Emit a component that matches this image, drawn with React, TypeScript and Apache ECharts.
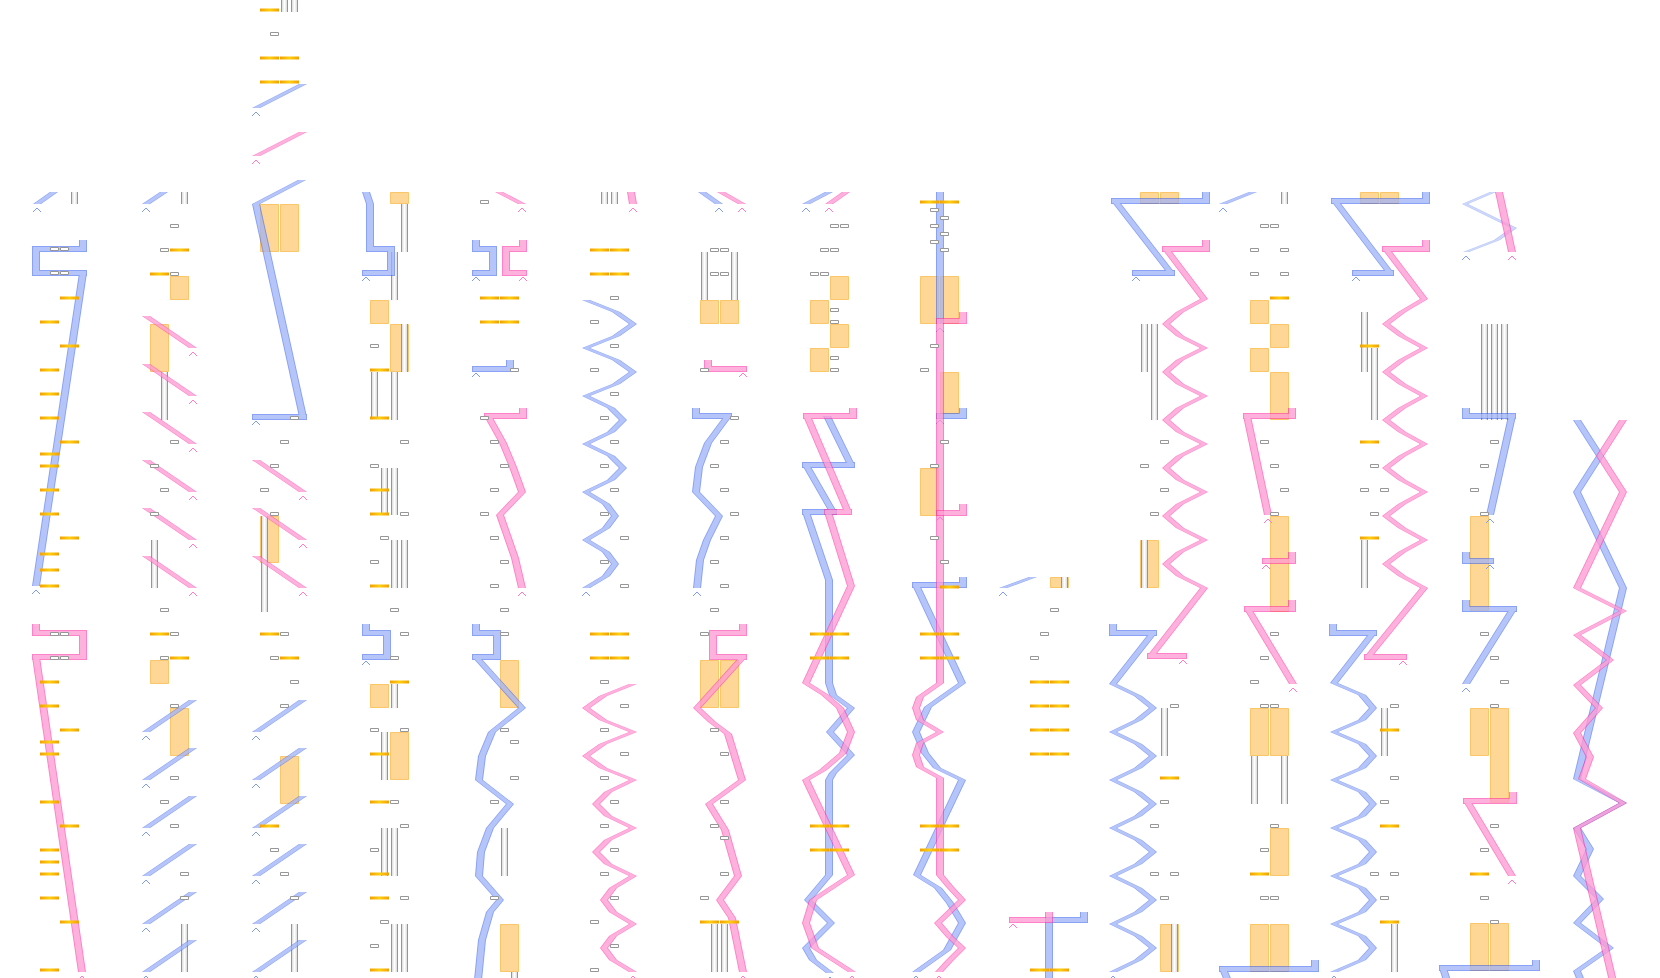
import React, { useEffect, useRef } from "react";
import * as echarts from "echarts";

// Page-sized canvas: x = horizontal position, y = vertical position (downwards).
const X_MAX = 1660;
const Y_MAX = 978;

// Ribbon strands, listed top to bottom; the last vertex gets an end marker.
const bluePaths: number[][][] = [
  // column 0
  [[54, 192], [37, 204]],
  [[83, 240], [83, 249], [36, 249], [36, 273], [83, 273], [36, 586]],
  // column 1
  [[164, 192], [146, 204]],
  [[193, 700], [146, 732]], [[193, 748], [146, 780]], [[193, 796], [146, 828]],
  [[193, 844], [146, 876]], [[193, 892], [146, 924]], [[193, 940], [146, 972]],
  // column 2
  [[303, 84], [256, 108]],
  [[302, 180], [256, 204], [303, 417], [256, 417]],
  [[303, 700], [256, 732]], [[303, 748], [256, 780]], [[303, 796], [256, 828]],
  [[303, 844], [256, 876]], [[303, 892], [256, 924]], [[303, 940], [256, 972]],
  // column 3
  [[366, 192], [370, 204], [370, 249], [391, 249], [391, 273], [366, 273]],
  [[366, 624], [366, 633], [387, 633], [387, 657], [366, 657]],
  // column 4
  [[476, 240], [476, 249], [493, 249], [493, 273], [476, 273]],
  [[510, 360], [510, 369], [476, 369]],
  [[476, 624], [476, 633], [497, 633], [497, 657], [476, 657], [522, 708], [492, 732], [482, 756], [479, 780], [510, 804], [490, 828], [481, 852], [479, 876], [500, 900], [490, 912], [482, 940], [477, 990]],
  // column 5
  [[586, 300], [616, 312], [633, 324], [616, 336], [586, 348], [616, 360], [633, 372], [616, 384], [586, 396], [611, 408], [623, 420], [611, 432], [586, 444], [611, 456], [623, 468], [611, 480], [586, 492], [606, 504], [615, 516], [606, 528], [586, 540], [606, 552], [615, 564], [606, 576], [586, 588]],
  // column 6
  [[702, 192], [719, 204]],
  [[696, 408], [696, 416], [728, 416], [708, 443], [699, 467], [696, 492], [719, 516], [707, 540], [700, 560], [697, 588]],
  // column 7
  [[829, 192], [806, 204]],
  [[827, 416], [851, 465], [806, 465], [833, 512], [806, 512], [829, 580], [829, 683], [833, 695], [851, 708], [830, 732], [851, 755], [833, 773], [829, 780], [829, 875], [808, 900], [831, 923], [806, 948], [813, 960], [830, 973]],
  // column 8
  [[940, 192], [940, 324]],
  [[963, 408], [963, 416], [940, 416]],
  [[963, 577], [963, 585], [916, 585], [962, 683], [928, 707], [916, 732], [925, 753], [937, 768], [962, 780], [917, 875], [938, 888], [950, 903], [962, 923], [947, 950], [916, 972]],
  // column 9
  [[1033, 577], [1003, 588]],
  [[1084, 912], [1084, 920], [1049, 920], [1049, 990]],
  // column 10
  [[1206, 192], [1206, 201], [1115, 201], [1171, 273], [1136, 273]],
  [[1113, 624], [1113, 633], [1153, 633], [1113, 684], [1138, 696], [1153, 708], [1138, 720], [1113, 732], [1138, 744], [1153, 756], [1138, 768], [1113, 780], [1138, 792], [1153, 804], [1138, 816], [1113, 828], [1138, 840], [1153, 852], [1138, 864], [1113, 876], [1138, 888], [1153, 900], [1138, 912], [1113, 924], [1138, 936], [1153, 948], [1138, 960], [1113, 972]],
  // column 11
  [[1253, 192], [1223, 204]],
  [[1315, 960], [1315, 969], [1223, 969], [1232, 990]],
  // column 12
  [[1426, 192], [1426, 201], [1335, 201], [1390, 273], [1356, 273]],
  [[1333, 624], [1333, 633], [1373, 633], [1334, 683], [1362, 695], [1373, 708], [1362, 720], [1334, 732], [1362, 744], [1373, 756], [1362, 768], [1334, 780], [1362, 792], [1373, 804], [1362, 816], [1334, 828], [1362, 840], [1373, 852], [1362, 864], [1334, 876], [1362, 888], [1373, 900], [1362, 912], [1334, 924], [1362, 936], [1373, 948], [1362, 960], [1334, 972]],
  // column 13
  [[1466, 408], [1466, 416], [1512, 416], [1490, 515]],
  [[1466, 552], [1466, 561], [1490, 561]],
  [[1466, 600], [1466, 609], [1513, 609], [1466, 684]],
  [[1536, 960], [1536, 968], [1443, 968], [1450, 990]],
  // column 14
  [[1577, 420], [1600, 456], [1577, 492], [1623, 588], [1577, 779], [1623, 803], [1577, 828], [1590, 849], [1577, 876], [1600, 899], [1577, 923], [1610, 948], [1577, 971], [1585, 990]],
];

// Fine blue strand at the head of column 13
const fineBluePaths: number[][][] = [
  [[1493, 192], [1465, 204], [1514, 228], [1497, 240], [1466, 252]],
];

const pinkPaths: number[][][] = [
  // column 0
  [[36, 624], [36, 633], [83, 633], [83, 657], [36, 657], [82, 972]],
  // column 1
  [[146, 316], [193, 348]], [[146, 364], [193, 396]], [[146, 412], [193, 444]],
  [[146, 460], [193, 492]], [[146, 508], [193, 540]], [[146, 556], [193, 588]],
  // column 2
  [[303, 132], [256, 156]],
  [[256, 460], [303, 492]], [[256, 508], [303, 540]], [[256, 556], [303, 588]],
  // column 4
  [[499, 192], [522, 204]],
  [[523, 240], [523, 249], [506, 249], [506, 273], [523, 273]],
  [[523, 408], [523, 416], [488, 416], [503, 443], [513, 467], [522, 492], [500, 515], [507, 535], [515, 558], [522, 588]],
  // column 5
  [[631, 192], [633, 204]],
  [[633, 684], [603, 696], [586, 708], [603, 720], [633, 732], [603, 744], [586, 756], [603, 768], [633, 780], [608, 792], [596, 804], [608, 816], [633, 828], [608, 840], [596, 852], [608, 864], [633, 876], [613, 888], [604, 900], [613, 912], [633, 924], [613, 936], [604, 948], [613, 960], [633, 972]],
  // column 6
  [[721, 192], [742, 204]],
  [[708, 360], [708, 369], [743, 369]],
  [[743, 624], [743, 633], [713, 633], [713, 657], [743, 657], [697, 708], [712, 722], [728, 734], [742, 780], [709, 804], [725, 830], [738, 876], [720, 900], [732, 918], [743, 972]],
  // column 7
  [[846, 192], [829, 204]],
  [[853, 408], [853, 416], [807, 416], [848, 512], [828, 512], [851, 586], [806, 683], [825, 695], [840, 708], [851, 732], [843, 753], [823, 770], [806, 780], [851, 875], [813, 900], [806, 923], [815, 948], [852, 972]],
  // column 8
  [[963, 312], [963, 321], [940, 321], [940, 683], [920, 697], [916, 708], [920, 720], [940, 732], [920, 743], [916, 755], [920, 767], [940, 778], [940, 875], [950, 887], [962, 900], [938, 923], [950, 937], [962, 948], [950, 960], [939, 972]],
  [[963, 504], [963, 513], [940, 513]],
  // column 9
  [[1049, 912], [1049, 920], [1013, 920]],
  // column 10
  [[1206, 240], [1206, 249], [1166, 249], [1204, 299], [1180, 312], [1166, 324], [1180, 336], [1204, 348], [1180, 360], [1166, 372], [1180, 384], [1204, 396], [1180, 408], [1166, 420], [1180, 432], [1204, 444], [1180, 456], [1166, 468], [1180, 480], [1204, 492], [1180, 504], [1166, 516], [1180, 528], [1204, 540], [1180, 552], [1166, 564], [1180, 576], [1204, 588], [1151, 656], [1183, 656]],
  // column 11
  [[1292, 408], [1292, 416], [1247, 416], [1268, 515]],
  [[1292, 552], [1292, 561], [1266, 561]],
  [[1292, 600], [1292, 609], [1248, 609], [1293, 684]],
  // column 12
  [[1426, 240], [1426, 249], [1386, 249], [1424, 299], [1402, 312], [1386, 324], [1402, 336], [1424, 348], [1402, 360], [1386, 372], [1402, 384], [1424, 396], [1402, 408], [1386, 420], [1402, 432], [1424, 444], [1402, 456], [1386, 468], [1402, 480], [1424, 492], [1402, 504], [1386, 516], [1402, 528], [1424, 540], [1402, 552], [1386, 564], [1402, 576], [1424, 588], [1368, 657], [1403, 657]],
  // column 13
  [[1499, 192], [1512, 252]],
  [[1513, 792], [1513, 801], [1467, 801], [1512, 876]],
  // column 14
  [[1623, 420], [1600, 456], [1623, 492], [1577, 588], [1623, 611], [1577, 635], [1610, 660], [1577, 685], [1599, 708], [1577, 733], [1590, 757], [1582, 779], [1623, 803], [1577, 828], [1615, 990]],
];

// Short amber ticks: [left, y]
const ticks: number[][] = [
  [40, 322], [40, 370], [40, 394], [40, 418], [40, 454], [40, 466], [40, 490], [40, 514], [40, 554], [40, 570], [40, 586],
  [60, 298], [60, 346], [60, 442], [60, 538],
  [40, 682], [40, 706], [40, 742], [40, 754], [40, 802], [40, 850], [40, 862], [40, 874], [40, 898], [40, 970],
  [60, 730], [60, 826], [60, 922],
  [170, 250], [150, 274], [150, 634], [170, 658],
  [260, 10], [260, 58], [280, 58], [260, 82], [280, 82], [260, 634], [280, 658], [260, 826],
  [370, 370], [370, 418], [370, 490], [370, 514], [370, 586], [390, 682], [370, 754], [370, 802], [370, 874], [370, 898], [370, 970],
  [480, 298], [500, 298], [480, 322], [500, 322],
  [590, 250], [610, 250], [590, 274], [610, 274], [590, 634], [610, 634], [590, 658], [610, 658],
  [700, 922], [720, 922],
  [810, 634], [830, 634], [810, 658], [830, 658], [810, 826], [830, 826], [810, 850], [830, 850],
  [920, 202], [940, 202], [940, 587], [920, 634], [940, 634], [920, 658], [940, 658], [920, 826], [940, 826], [920, 850], [940, 850],
  [1030, 682], [1050, 682], [1030, 706], [1050, 706], [1030, 730], [1050, 730], [1030, 754], [1050, 754], [1030, 970], [1050, 970],
  [1160, 778],
  [1270, 298], [1250, 874],
  [1360, 346], [1360, 442], [1360, 538], [1380, 730], [1380, 826], [1380, 922],
  [1470, 874],
];

// Small hollow boxes: [left, y]
const boxes: number[][] = [
  [50, 249], [60, 249], [50, 273], [60, 273], [50, 634], [60, 634], [50, 658], [60, 658],
  [170, 226], [160, 250], [170, 274], [170, 442], [150, 466], [160, 490], [150, 514], [160, 610], [170, 634], [160, 658], [170, 706], [170, 778], [160, 802], [170, 826], [180, 874], [180, 898],
  [270, 34], [290, 418], [280, 442], [270, 466], [260, 490], [270, 514], [280, 634], [270, 658], [290, 682], [280, 706], [270, 850], [280, 874], [290, 898],
  [370, 346], [400, 442], [370, 466], [400, 514], [380, 538], [370, 562], [390, 610], [400, 634], [390, 658], [370, 730], [400, 730], [390, 802], [400, 826], [370, 850], [400, 898], [380, 922], [370, 946],
  [480, 202], [510, 370], [480, 418], [490, 442], [500, 466], [490, 490], [480, 514], [490, 538], [500, 562], [490, 586], [500, 610], [500, 634], [500, 730], [510, 742], [510, 778], [490, 802], [490, 898],
  [610, 298], [590, 322], [610, 346], [590, 370], [610, 394], [600, 418], [610, 442], [600, 466], [610, 490], [600, 514], [620, 538], [600, 562], [620, 586],
  [600, 682], [620, 706], [600, 730], [620, 754], [600, 778], [610, 802], [600, 826], [610, 850], [600, 874], [610, 898], [590, 922], [610, 946], [590, 970],
  [710, 250], [720, 250], [710, 274], [720, 274], [700, 370], [730, 418], [720, 442], [710, 466], [720, 490], [730, 514], [720, 538], [710, 562], [720, 586], [710, 610], [700, 634], [710, 730], [720, 754], [720, 802], [710, 826], [720, 838], [720, 874], [700, 898],
  [830, 226], [840, 226], [820, 250], [830, 250], [810, 274], [820, 274], [830, 310], [830, 322], [830, 358], [830, 370],
  [930, 210], [940, 218], [930, 226], [940, 234], [930, 242], [940, 250], [930, 346], [920, 370], [940, 442], [930, 466], [930, 538], [940, 562],
  [1050, 610], [1040, 634], [1030, 658],
  [1160, 442], [1140, 466], [1160, 490], [1150, 514], [1170, 706], [1160, 802], [1150, 826], [1150, 874], [1170, 874], [1160, 898],
  [1260, 226], [1270, 226], [1250, 250], [1280, 250], [1250, 274], [1280, 274], [1260, 442], [1270, 466], [1280, 490], [1270, 514], [1270, 634], [1260, 658], [1250, 682], [1260, 706], [1270, 706], [1270, 826], [1260, 850], [1260, 898], [1270, 898],
  [1370, 466], [1360, 490], [1380, 490], [1370, 514], [1390, 706], [1390, 778], [1380, 802], [1370, 874], [1390, 874], [1380, 898],
  [1490, 442], [1480, 466], [1470, 490], [1480, 514], [1480, 634], [1490, 658], [1500, 682], [1490, 706], [1490, 826], [1480, 850], [1480, 898], [1490, 922],
];

// Striped rods: [left, top, bottom]
const rods: number[][] = [
  [71, 192, 204],
  [181, 192, 204], [161, 372, 420], [151, 540, 588], [181, 924, 972],
  [281, 0, 12], [291, 0, 12], [261, 516, 612], [291, 924, 972],
  [401, 204, 252], [391, 252, 300], [401, 324, 372], [391, 372, 420], [371, 372, 418], [381, 468, 515], [391, 468, 515], [391, 540, 588], [401, 540, 588],
  [391, 684, 708], [381, 732, 780], [381, 828, 876], [391, 828, 876], [391, 924, 972], [401, 924, 972],
  [501, 828, 876], [511, 972, 985],
  [601, 192, 204], [611, 192, 204],
  [701, 252, 300], [731, 252, 300], [711, 924, 972], [721, 924, 972],
  [1061, 577, 588],
  [1141, 324, 372], [1151, 324, 420], [1141, 540, 588], [1161, 708, 756], [1171, 924, 972],
  [1281, 192, 204], [1251, 756, 804], [1281, 756, 804],
  [1361, 312, 372], [1371, 348, 420], [1361, 540, 588], [1381, 708, 756], [1391, 924, 972],
  [1481, 324, 420], [1491, 324, 420], [1501, 324, 420],
];

// Shaded blocks: [left, top, bottom]
const blocks: number[][] = [
  [170, 276, 300], [150, 324, 372], [150, 660, 684], [170, 708, 756],
  [260, 204, 252], [280, 204, 252], [260, 516, 563], [280, 756, 804],
  [390, 192, 204], [370, 300, 324], [390, 324, 372], [370, 684, 708], [390, 732, 780],
  [500, 660, 708], [500, 924, 972],
  [700, 300, 324], [720, 300, 324], [700, 660, 708], [720, 660, 708],
  [830, 276, 300], [810, 300, 324], [830, 324, 348], [810, 348, 372],
  [920, 276, 324], [940, 276, 324], [940, 372, 414], [920, 468, 516],
  [1050, 577, 588],
  [1140, 192, 204], [1160, 192, 204], [1140, 540, 588], [1160, 924, 972],
  [1250, 300, 324], [1270, 324, 348], [1250, 348, 372], [1270, 372, 420], [1270, 516, 612], [1250, 708, 756], [1270, 708, 756], [1270, 828, 876], [1250, 924, 972], [1270, 924, 972],
  [1360, 192, 204], [1380, 192, 204],
  [1470, 516, 611], [1470, 708, 756], [1490, 708, 803], [1470, 923, 971], [1490, 923, 971],
];

const BLUE = { fill: "rgba(60,100,238,0.6)", mark: "#7d9af4", half: 4, flat: 3 };
const FINE_BLUE = { fill: "rgba(60,100,238,0.4)", mark: "#7d9af4", half: 3, flat: 2 };
const PINK = { fill: "rgba(255,47,163,0.6)", mark: "#ff78cc", half: 4, flat: 3 };
const SHEEN = "rgba(255,255,255,0.38)";
const LANE_W = 19;
const BOX_W = 9;
const ROD_W = 7;

// Ribbon outline: sloped runs keep a constant horizontal width, level runs a constant height.
// Every piece is wound the same way so overlaps fill only once.
function ribbon(pts: number[][], half: number, flat: number): string {
  let d = "";
  for (let i = 0; i < pts.length - 1; i++) {
    let p = pts[i];
    let q = pts[i + 1];
    if (Math.abs(p[1] - q[1]) < 0.5) {
      const x0 = Math.min(p[0], q[0]) - half;
      const x1 = Math.max(p[0], q[0]) + half;
      const y = p[1];
      d += `M${x0},${y - flat}L${x1},${y - flat}L${x1},${y + flat}L${x0},${y + flat}Z`;
    } else {
      if (p[1] > q[1]) [p, q] = [q, p];
      d += `M${p[0] - half},${p[1]}L${p[0] + half},${p[1]}L${q[0] + half},${q[1]}L${q[0] - half},${q[1]}Z`;
    }
  }
  return d;
}

function strandSeries(name: string, paths: number[][][], tone: any) {
  return {
    type: "custom",
    name,
    silent: true,
    data: paths.map((p) => [p[0][0], p[0][1]]),
    encode: { x: 0, y: 1 },
    renderItem: (params: any, api: any) => {
      const path = paths[params.dataIndex];
      const pts = path.map((p) => api.coord(p));
      const n = pts.length;
      const children: any[] = [
        { type: "path", shape: { pathData: ribbon(pts, tone.half, tone.flat) }, style: { fill: tone.fill } },
        { type: "path", shape: { pathData: ribbon(pts, tone.half - 1, tone.flat - 1) }, style: { fill: SHEEN } },
      ];
      if (path[n - 1][1] < Y_MAX - 4) {
        const e = pts[n - 1];
        children.push({
          type: "polyline",
          shape: { points: [[e[0] - 4, e[1] + 8], [e[0], e[1] + 4], [e[0] + 4, e[1] + 8]] },
          style: { fill: null, stroke: tone.mark, lineWidth: 1 },
        });
      }
      return { type: "group", children };
    },
  };
}

export default function App() {
  const ref = useRef<HTMLDivElement>(null);

  useEffect(() => {
    if (!ref.current) return;
    const chart = echarts.init(ref.current, null, { renderer: "svg" });

    const option: any = {
      animation: false,
      backgroundColor: "#ffffff",
      grid: { left: 0, right: 0, top: 0, bottom: 0 },
      xAxis: { type: "value", min: 0, max: X_MAX, show: false },
      yAxis: { type: "value", min: 0, max: Y_MAX, inverse: true, show: false },
      series: [
        {
          type: "custom",
          name: "blocks",
          silent: true,
          data: blocks,
          encode: { x: 0, y: [1, 2] },
          renderItem: (_p: any, api: any) => {
            const a = api.coord([api.value(0), api.value(1)]);
            const b = api.coord([api.value(0), api.value(2)]);
            const w = api.size([LANE_W, 0])[0];
            return {
              type: "rect",
              shape: { x: a[0] + 0.5, y: a[1] + 0.5, width: w - 1, height: b[1] - a[1] - 1 },
              style: { fill: "#fed797", stroke: "#fbc56a", lineWidth: 1 },
            };
          },
        },
        {
          type: "custom",
          name: "rods",
          silent: true,
          data: rods,
          encode: { x: 0, y: [1, 2] },
          renderItem: (_p: any, api: any) => {
            const a = api.coord([api.value(0), api.value(1)]);
            const b = api.coord([api.value(0), api.value(2)]);
            const w = api.size([ROD_W, 0])[0];
            const x0 = Math.round(a[0]);
            return {
              type: "group",
              children: [
                {
                  type: "rect",
                  shape: { x: x0, y: a[1], width: w, height: b[1] - a[1] },
                  style: {
                    fill: {
                      type: "linear", x: 0, y: 0, x2: 1, y2: 0,
                      colorStops: [
                        { offset: 0, color: "#cfcfcf" },
                        { offset: 0.5, color: "#ffffff" },
                        { offset: 1, color: "#cfcfcf" },
                      ],
                    },
                  },
                },
                { type: "line", shape: { x1: x0 + 0.5, y1: a[1], x2: x0 + 0.5, y2: b[1] }, style: { stroke: "#969696", lineWidth: 1 } },
                { type: "line", shape: { x1: x0 + w - 0.5, y1: a[1], x2: x0 + w - 0.5, y2: b[1] }, style: { stroke: "#969696", lineWidth: 1 } },
              ],
            };
          },
        },
        strandSeries("blue strands", bluePaths, BLUE),
        strandSeries("fine blue strand", fineBluePaths, FINE_BLUE),
        strandSeries("pink strands", pinkPaths, PINK),
        {
          type: "custom",
          name: "boxes",
          silent: true,
          data: boxes,
          encode: { x: 0, y: 1 },
          renderItem: (_p: any, api: any) => {
            const a = api.coord([api.value(0), api.value(1)]);
            const w = api.size([BOX_W, 0])[0];
            return {
              type: "rect",
              shape: { x: Math.round(a[0]) + 0.5, y: Math.round(a[1]) - 1.5, width: w - 1, height: 3 },
              style: { fill: "#ffffff", stroke: "#979797", lineWidth: 1 },
            };
          },
        },
        {
          type: "custom",
          name: "ticks",
          silent: true,
          data: ticks,
          encode: { x: 0, y: 1 },
          renderItem: (_p: any, api: any) => {
            const a = api.coord([api.value(0), api.value(1)]);
            const w = api.size([LANE_W, 0])[0];
            return {
              type: "rect",
              shape: { x: a[0], y: Math.round(a[1]) - 1.5, width: w, height: 3 },
              style: {
                fill: {
                  type: "linear", x: 0, y: 0, x2: 1, y2: 0,
                  colorStops: [
                    { offset: 0, color: "#f2a000" },
                    { offset: 0.5, color: "#ffcf10" },
                    { offset: 1, color: "#f2a000" },
                  ],
                },
              },
            };
          },
        },
      ],
    };

    chart.setOption(option);
    return () => chart.dispose();
  }, []);

  return (
    <div
      ref={ref}
      style={{ position: "fixed", left: 0, top: 0, width: X_MAX, height: Y_MAX, background: "#fff" }}
    />
  );
}
